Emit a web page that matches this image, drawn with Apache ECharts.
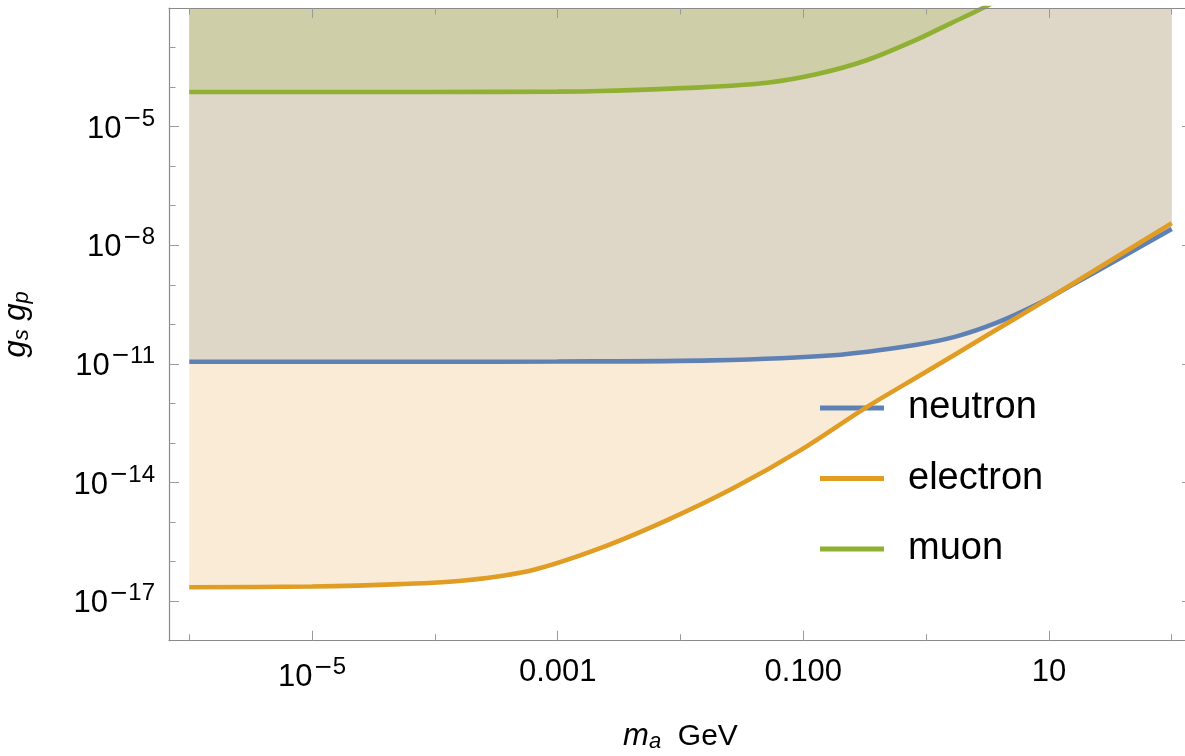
<!DOCTYPE html>
<html><head><meta charset="utf-8">
<script src="https://cdn.jsdelivr.net/npm/echarts@6/dist/echarts.min.js"></script>
<style>html,body{margin:0;padding:0;background:#fff;overflow:hidden;} #c{width:1185px;height:756px;}</style>
</head><body><div id="c"></div>
<script>
// ---- data (m_a in GeV, g_s g_p) ----
const neutronMass = [1e-6, 1e-4, 1e-3, 0.0182, 0.176, 0.813, 1.74, 3.68, 7.94, 14.5, 36.3, 100];
const neutronG    = [1.135e-11, 1.135e-11, 1.15e-11, 1.23e-11, 1.66e-11, 3.02e-11, 4.90e-11, 1.07e-10, 3.16e-10, 8.91e-10, 4.37e-9, 2.57e-8];
const electronMass = [1e-6, 1e-5, 5.2e-5, 1.82e-4, 6.3e-4, 2.22e-3, 7.8e-3, 0.027, 0.095, 0.333, 1, 3.16, 10, 31.6, 100];
const electronG    = [2.24e-17, 2.34e-17, 2.69e-17, 3.39e-17, 6.17e-17, 2.19e-16, 1.12e-15, 7.24e-15, 6.61e-14, 8.32e-13, 6.31e-12, 5.37e-11, 4.57e-10, 4.07e-9, 3.63e-8];
const muonMass = [1e-6, 1e-4, 1e-3, 2.21e-3, 0.0145, 0.0508, 0.13, 0.332, 0.848, 1.585, 2.87, 10, 31.6, 100];
const muonG    = [7.52e-5, 7.52e-5, 7.67e-5, 7.96e-5, 9.86e-5, 1.29e-4, 2.14e-4, 4.84e-4, 1.61e-3, 4.10e-3, 9.82e-3, 8.13e-2, 0.708, 6.31];

const seriesNames = ['neutron', 'electron', 'muon'];

// ---- ticks ----
const xMajorTicks = [1e-5, 1e-3, 0.1, 10];
const xMajorLabels = ['10^\u22125', '0.001', '0.100', '10'];
const xMinorTicks = [1e-6, 1e-5, 1e-4, 1e-3, 1e-2, 0.1, 1, 10, 100];
const yMajorTicks = [1e-17, 1e-14, 1e-11, 1e-8, 1e-5];
const yMajorLabels = ['10^\u221217', '10^\u221214', '10^\u221211', '10^\u22128', '10^\u22125'];
const yMinorTicks = [1e-17, 1e-16, 1e-15, 1e-14, 1e-13, 1e-12, 1e-11, 1e-10, 1e-9, 1e-8, 1e-7, 1e-6, 1e-5, 1e-4, 1e-3];

// axis ranges
const xRange = [1e-6 / 1.462, 100 * 1.462];
const yRange = [1e-18, 1e-2];

const FONT = '"Liberation Sans", Arial, Helvetica, sans-serif';
const FRAME = '#8a8a8a';
const TICK = '#9a9a9a';
const COLORS = { neutron: '#5E81B5', electron: '#E19C24', muon: '#8FB032' };
const FILLS = { neutron: '#DED7C7', electron: '#F9EBD6', muon: '#CECEA8' };

const L = Math.log10;
const toPts = (ms, gs) => ms.map((m, i) => [L(m), L(gs[i])]);
const lg = arr => arr.map(L);

function supLabel(s) {
  const p = s.split('^');
  if (p.length !== 2) return s;
  const e = p[1];
  const neg = e.charAt(0) === '\u2212';
  return '{b|' + p[0] + '}' + (neg ? '{m|\u2212}{s|' + e.slice(1) + '}' : '{s|' + e + '}');
}
function makeFmt(ticks, labels) {
  return v => {
    const i = ticks.findIndex(t => Math.abs(L(t) - v) < 1e-6);
    return i < 0 ? '' : supLabel(labels[i]);
  };
}
const tickRich = {
  b: { fontSize: 31, fontFamily: FONT, color: '#000', height: 30, lineHeight: 35, verticalAlign: 'bottom' },
  m: { fontSize: 23, fontFamily: '"DejaVu Sans", sans-serif', color: '#000', height: 20, lineHeight: 35, verticalAlign: 'top', padding: [0, 0, 0, 1] },
  s: { fontSize: 24, fontFamily: FONT, color: '#000', height: 20, lineHeight: 35, verticalAlign: 'top' }
};
const titleRich = {
  i: { fontSize: 31, fontFamily: FONT, fontStyle: 'italic', color: '#000', height: 28, lineHeight: 30, verticalAlign: 'top' },
  t: { fontSize: 30, fontFamily: FONT, color: '#000', height: 28, lineHeight: 30, verticalAlign: 'top' },
  sub: { fontSize: 22, fontFamily: FONT, fontStyle: 'italic', color: '#000', height: 22, lineHeight: 30, verticalAlign: 'bottom' }
};

const data = {
  neutron: toPts(neutronMass, neutronG),
  electron: toPts(electronMass, electronG),
  muon: toPts(muonMass, muonG)
};

function axisX(position, major, showLabel) {
  const ticks = major ? xMajorTicks : xMinorTicks;
  const a = {
    type: 'value', position, min: L(xRange[0]), max: L(xRange[1]), z: 10,
    axisLine: { show: major, onZero: false, lineStyle: { color: FRAME, width: 1.2 } },
    axisTick: { show: true, inside: true, length: major ? 10 : 6.5, customValues: lg(ticks), lineStyle: { color: TICK, width: 1 } },
    axisLabel: { show: false },
    splitLine: { show: false }
  };
  if (showLabel) {
    a.axisLabel = { show: true, customValues: lg(xMajorTicks), margin: 17, formatter: makeFmt(xMajorTicks, xMajorLabels),
      fontSize: 31, lineHeight: 30, fontFamily: FONT, color: '#000', rich: tickRich };
    a.name = '{i|m}{sub|a}{t|  GeV}';
    a.nameLocation = 'middle';
    a.nameGap = 82;
    a.nameTextStyle = { rich: titleRich, fontFamily: FONT, fontSize: 30, color: '#000' };
  }
  return a;
}
function axisY(position, major, showLabel) {
  const ticks = major ? yMajorTicks : yMinorTicks;
  const a = {
    type: 'value', position, min: L(yRange[0]), max: L(yRange[1]), z: 10,
    axisLine: { show: major, onZero: false, lineStyle: { color: FRAME, width: 1.2 } },
    axisTick: { show: true, inside: true, length: major ? 10 : 6.5, customValues: lg(ticks), lineStyle: { color: TICK, width: 1 } },
    axisLabel: { show: false },
    splitLine: { show: false }
  };
  if (showLabel) {
    a.axisLabel = { show: true, customValues: lg(yMajorTicks), margin: 14, formatter: makeFmt(yMajorTicks, yMajorLabels),
      fontSize: 31, lineHeight: 30, fontFamily: FONT, color: '#000', rich: tickRich };
    a.name = '{i|g}{sub|s} {i|g}{sub|p}';
    a.nameLocation = 'middle';
    a.nameRotate = 90;
    a.nameGap = 136;
    a.nameTextStyle = { rich: titleRich, fontFamily: FONT, fontSize: 31, color: '#000' };
  }
  return a;
}

const smoothOpt = { smooth: 0.3, symbol: 'none', showSymbol: false, animation: false };
const areaOrder = ['electron', 'neutron', 'muon'];
const series = [];
areaOrder.forEach((k, i) => {
  series.push(Object.assign({
    name: k + '-fill', type: 'line', data: data[k], z: 1 + i, silent: true,
    lineStyle: { width: 0, opacity: 0 }, itemStyle: { color: FILLS[k] },
    areaStyle: { color: FILLS[k], opacity: 1, origin: 'end' }
  }, smoothOpt));
});
seriesNames.forEach((k, i) => {
  series.push(Object.assign({
    name: k, type: 'line', data: data[k], z: 5 + i,
    lineStyle: { width: 4.6, color: COLORS[k], cap: 'butt' }, itemStyle: { color: COLORS[k] }
  }, smoothOpt));
});

const chart = echarts.init(document.getElementById('c'), null, { renderer: 'canvas' });
chart.setOption({
  animation: false,
  backgroundColor: '#ffffff',
  grid: { left: 169, top: 8, width: 1023, bottom: 115.3, containLabel: false, outerBoundsMode: 'none' },
  xAxis: [axisX('bottom', true, true), axisX('bottom', false, false), axisX('top', true, false), axisX('top', false, false)],
  yAxis: [axisY('left', true, true), axisY('left', false, false), axisY('right', true, false), axisY('right', false, false)],
  legend: {
    data: seriesNames, orient: 'vertical', left: 820, top: 388, padding: 0,
    icon: 'rect', itemWidth: 64, itemHeight: 5, itemGap: 30.5,
    textStyle: { fontSize: 38, lineHeight: 40, fontFamily: FONT, color: '#000', padding: [0, 0, 0, 19] }
  },
  series
});
</script></body></html>
